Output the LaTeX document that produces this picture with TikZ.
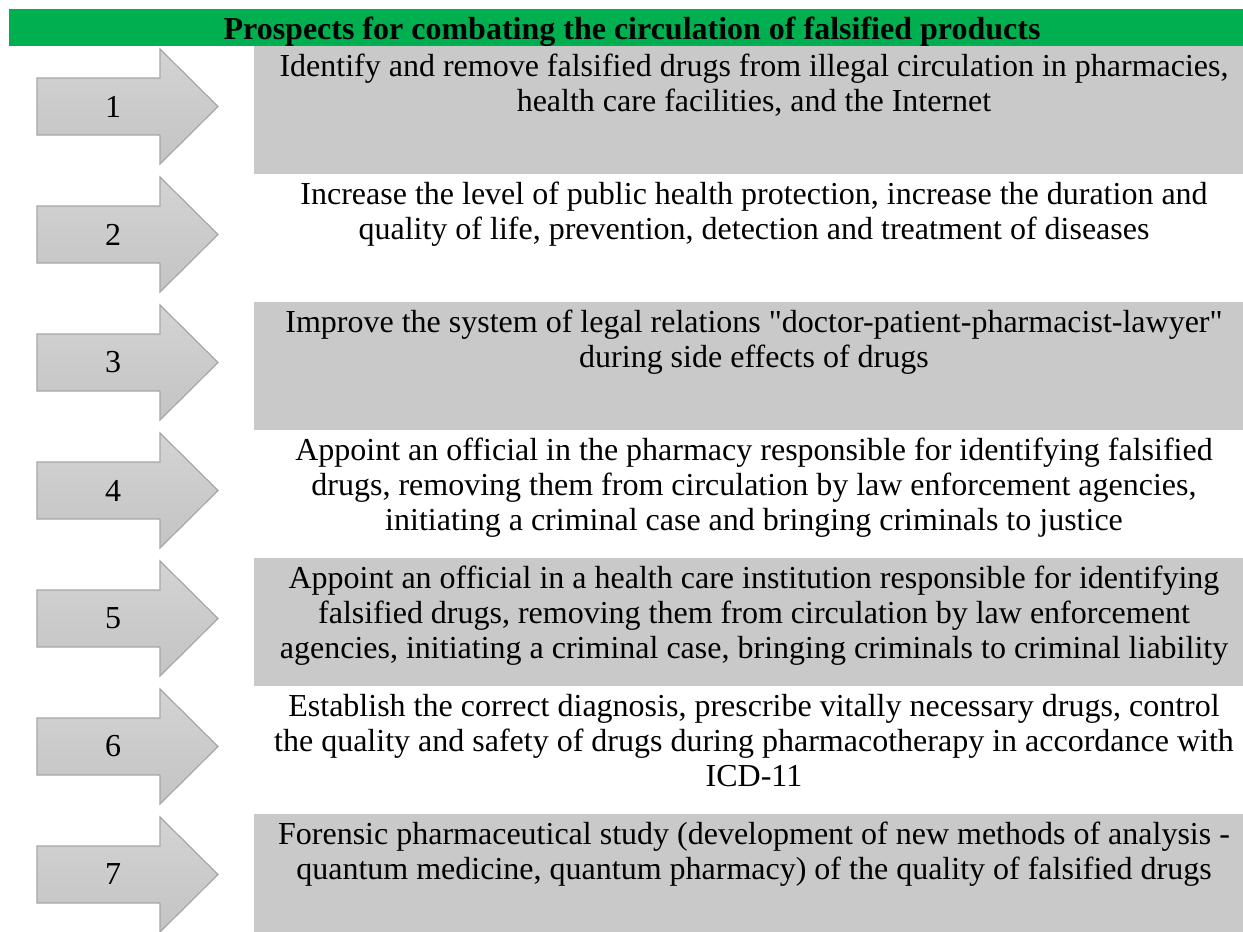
\documentclass[tikz,border=0pt]{standalone}
\usepackage{fontspec}
\setmainfont{Liberation Serif}[Ligatures=TeXOff]
\definecolor{hdrgreen}{HTML}{00B050}
\definecolor{boxgray}{HTML}{C9C9C9}
\definecolor{arrowborder}{HTML}{A6A6A6}
\definecolor{arrowtop}{HTML}{D3D3D3}
\definecolor{arrowbot}{HTML}{C4C4C4}
\begin{document}
\begin{tikzpicture}[x=0.5pt,y=-0.5pt,
  hdr/.style={fill=hdrgreen, draw=none},
  graybox/.style={fill=boxgray, draw=none},
  arrowshape/.style={draw=arrowborder, line width=0.6pt, top color=arrowtop, bottom color=arrowbot},
  numtxt/.style={font=\fontsize{16}{17.5}\selectfont, inner sep=0pt},
  boxtxt/.style={font=\fontsize{16}{17.5}\selectfont, align=center, anchor=north, inner xsep=0pt, inner ysep=2.75pt},
  titletxt/.style={font=\bfseries\fontsize{16}{17.5}\selectfont, anchor=base, inner sep=0pt}
]
\useasboundingbox (0,0) rectangle (1243,932);
\fill[hdr] (9,9) rectangle (1243,45.5);
\node[titletxt] (title) at (632,39) {Prospects for combating the circulation of falsified products};
\foreach \k in {1,3,5,7}{
  \pgfmathsetmacro\ytop{46+128*(\k-1)}
  \pgfmathsetmacro\ybot{min(46+128*\k,932)}
  \fill[graybox] (254,\ytop) rectangle (1243,\ybot);
}
\foreach \k in {1,...,7}{
  \pgfmathsetmacro\cy{106.5+128*(\k-1)}
  \path[arrowshape] (37,\cy-28.5) -- (160,\cy-28.5) -- (160,\cy-57.5) -- (218,\cy)
     -- (160,\cy+57.5) -- (160,\cy+28.5) -- (37,\cy+28.5) -- cycle;
  \node[numtxt] (n\k) at (113,\cy) {\k};
}
\node[boxtxt] (t1) at (754,46) {\strut Identify and remove falsified drugs from illegal circulation in pharmacies,\\health care facilities, and the Internet};
\node[boxtxt] (t2) at (754,174) {\strut Increase the level of public health protection, increase the duration and\\quality of life, prevention, detection and treatment of diseases};
\node[boxtxt] (t3) at (754,302) {\strut Improve the system of legal relations "doctor-patient-pharmacist-lawyer"\\during side effects of drugs};
\node[boxtxt] (t4) at (754,430) {\strut Appoint an official in the pharmacy responsible for identifying falsified\\drugs, removing them from circulation by law enforcement agencies,\\initiating a criminal case and bringing criminals to justice};
\node[boxtxt] (t5) at (754,558) {\strut Appoint an official in a health care institution responsible for identifying\\falsified drugs, removing them from circulation by law enforcement\\agencies, initiating a criminal case, bringing criminals to criminal liability};
\node[boxtxt] (t6) at (754,686) {\strut Establish the correct diagnosis, prescribe vitally necessary drugs, control\\the quality and safety of drugs during pharmacotherapy in accordance with\\ICD-11};
\node[boxtxt] (t7) at (754,814) {\strut Forensic pharmaceutical study (development of new methods of analysis -\\quantum medicine, quantum pharmacy) of the quality of falsified drugs};
\end{tikzpicture}
\end{document}
